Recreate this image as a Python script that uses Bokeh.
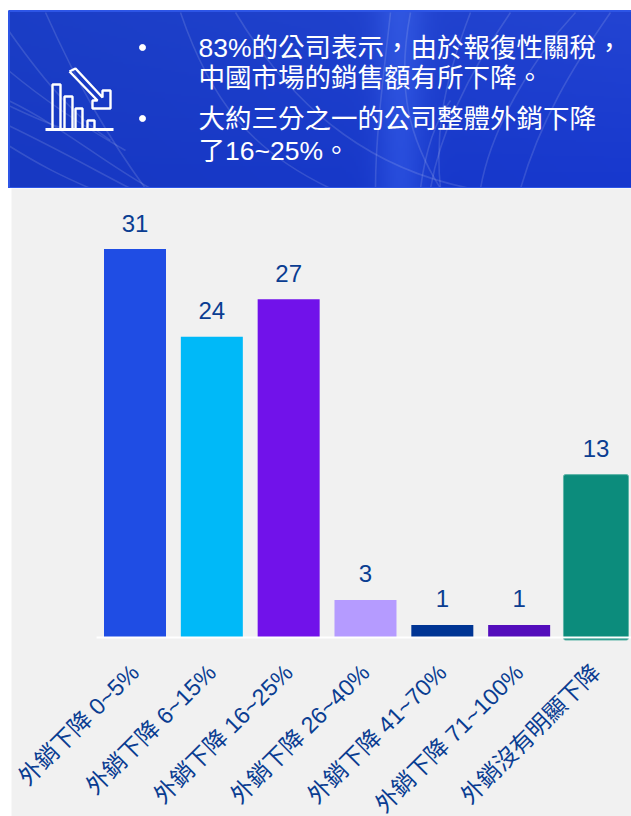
import numpy as np
from bokeh.plotting import figure
from bokeh.layouts import column
from bokeh.models import ColumnDataSource, Range1d, FixedTicker
from bokeh.core.properties import value
from bokeh.embed import file_html
from bokeh.resources import INLINE

categories = ["外銷下降 0~5%", "外銷下降 6~15%", "外銷下降 16~25%", "外銷下降 26~40%",
              "外銷下降 41~70%", "外銷下降 71~100%", "外銷沒有明顯下降"]
values = [31, 24, 27, 3, 1, 1, 13]
bar_colors = ["#1f4de4", "#00b9f8", "#7112ea", "#b59bff", "#003594", "#540dbc", "#0c8c7c"]
bullets = [["83%的公司表示，由於報復性關稅，", "中國市場的銷售額有所下降。"],
           ["大約三分之一的公司整體外銷下降", "了16~25%。"]]
FONT = "Liberation Sans, Noto Sans CJK TC"
INK = "#0a3d91"
GRAY = "#f1f1f1"

# banner: range is page pixels
b = figure(width=631, height=188, x_range=Range1d(0, 631), y_range=Range1d(188, 0),
           output_backend="svg", toolbar_location=None, min_border=0, frame_align=False,
           background_fill_color="white", border_fill_color="white", outline_line_color=None)
b.axis.visible = False
b.grid.visible = False

# backdrop texture
H, W = 89, 312
xx = np.linspace(0, 1, W)[None, :]
yy = np.linspace(0, 1, H)[:, None]
glow = np.exp(-((xx - 0.63) / 0.04) ** 2)
r = 27 + 8 * xx * (1 - yy) - 4 * yy + 16 * glow
g = 62 + 6 * (1 - yy) * xx - 6 * yy + 20 * glow
bl = 198 + 12 * xx - 4 * yy + 18 * glow
rgba = np.zeros((H, W, 4), dtype=np.uint8)
rgba[..., 0] = np.clip(r * np.ones((H, W)), 0, 255)
rgba[..., 1] = np.clip(g * np.ones((H, W)), 0, 255)
rgba[..., 2] = np.clip(bl * np.ones((H, W)), 0, 255)
rgba[..., 3] = 255
img32 = rgba.view(dtype=np.uint32).reshape(H, W)
b.image_rgba(image=[img32], x=8, y=10, dw=623, dh=178)

# light streaks
st = dict(
    x0=[45, 180, 235, 390, 410, 8, 8, 8, 8, 8, 8, 470, 510, 575, 420, 610],
    y0=[12, 12, 12, 12, 12, 30, 70, 100, 125, 145, 105, 12, 12, 12, 188, 12],
    x1=[145, 330, 470, 375, 440, 110, 125, 150, 130, 90, 70, 440, 430, 480, 450, 520],
    y1=[188, 188, 188, 188, 188, 140, 150, 188, 188, 188, 130, 188, 188, 188, 100, 188],
    cx0=[80, 210, 300, 385, 395, 50, 50, 60, 60, 40, 30, 440, 470, 530, 425, 570],
    cy0=[90, 100, 120, 60, 90, 90, 105, 125, 150, 165, 115, 90, 70, 60, 150, 70],
    cx1=[110, 250, 380, 375, 410, 80, 90, 100, 95, 60, 50, 435, 440, 490, 435, 540],
    cy1=[140, 150, 170, 130, 140, 120, 130, 160, 170, 175, 125, 140, 130, 130, 120, 120],
)
b.bezier(source=ColumnDataSource(st), x0="x0", y0="y0", x1="x1", y1="y1",
         cx0="cx0", cy0="cy0", cx1="cx1", cy1="cy1",
         line_color="white", line_alpha=0.13, line_width=1.6)
b.quad(left=8.5, right=632, top=10.5, bottom=187.5, fill_color=None,
       line_color="#2d55e6", line_width=2)

# bullets and text
b.scatter(x=[142, 142], y=[47, 118], size=6, marker="circle", fill_color="white", line_color="white")
line_y = [47, 77, 118, 150]
line_txt = [t for group in bullets for t in group]
b.text(x=[198] * 4, y=line_y, text=line_txt, text_color="white", text_font=value(FONT),
       text_font_size="26.5px", text_align="left", text_baseline="middle")

# icon
ic = dict(line_color="white", line_width=2.4)
b.line([45, 113], [129, 129], line_width=3, line_color="white")
for x0, x1, top in [(52, 60, 84), (64, 72, 96), (75, 82, 108), (87, 94, 120)]:
    b.line([x0, x0, x1, x1], [129, top, top, 129], **ic)
b.line([69, 75, 102, 102, 110, 110, 92, 92, 97, 69], [71, 68, 97, 90, 90, 108, 108, 100, 100, 71], **ic)

# chart: the frame fills the whole grey panel, so the axis labels stay inside it
xs = list(range(len(values)))
source = ColumnDataSource(dict(x=xs, top=values, label=[str(v) for v in values]))
px_per_unit = 12.53
step = 76.83
fig_w, fig_h = 620, 628
base_y = 637 - 188
first_center_px = 134.5 - 11
p = figure(width=fig_w, height=fig_h, margin=(0, 0, 0, 11), frame_align=False,
           x_range=Range1d(-first_center_px / step, (fig_w - first_center_px) / step),
           y_range=Range1d(-(fig_h - base_y) / px_per_unit, base_y / px_per_unit),
           output_backend="svg", toolbar_location=None, min_border=0,
           background_fill_color=GRAY, border_fill_color=GRAY, outline_line_color=None)
p.grid.visible = False
p.yaxis.visible = False
p.vbar(x=xs[:6], top=values[:6], width=62 / step, bottom=0,
       fill_color=bar_colors[:6], line_color=None)
p.vbar(x=[6], top=[13], bottom=[-0.2], width=65 / step, fill_color=bar_colors[6],
       line_color="#5fb5a8", line_width=1, border_radius=2)
p.line(x=[-0.5, 6.5], y=[0, 0], line_color="white", line_width=2)
p.text(x="x", y="top", text="label", source=source, text_color=INK, text_font=value(FONT),
       text_font_size="24px", text_align="center", text_baseline="middle", y_offset=-26)

xa = p.xaxis[0]
xa.fixed_location = 0
xa.ticker = FixedTicker(ticks=xs)
xa.major_label_overrides = {i: c for i, c in enumerate(categories)}
xa.major_label_orientation = np.pi / 4
xa.major_label_text_font = FONT
xa.major_label_text_font_size = "23.2px"
xa.major_label_text_color = INK
xa.major_label_standoff = 25
xa.axis_line_color = None
xa.major_tick_line_color = None
xa.minor_tick_line_color = None

page = column(b, p, spacing=0)
open("out.html", "w").write(file_html(page, INLINE))
